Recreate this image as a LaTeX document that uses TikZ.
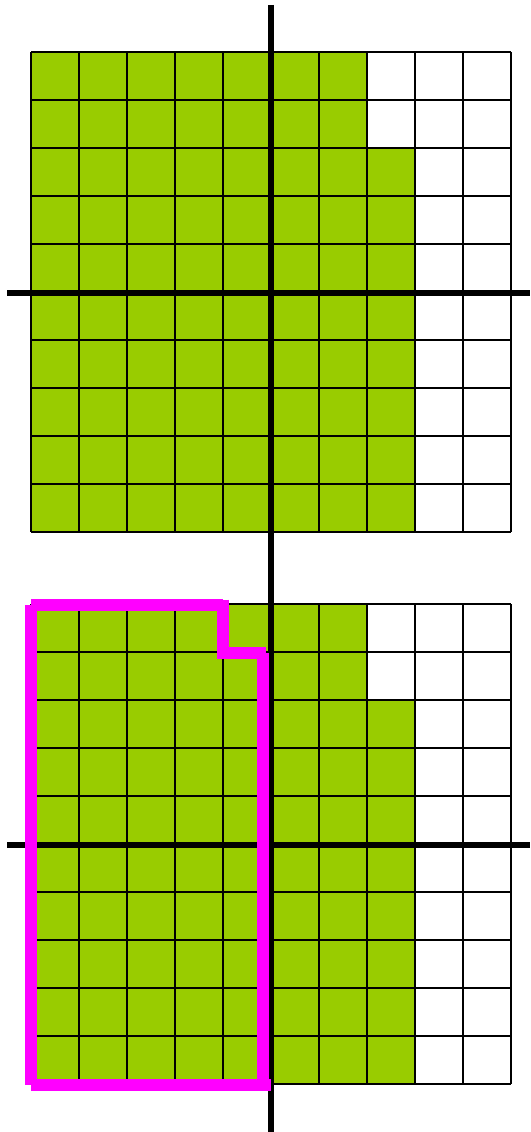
\documentclass[tikz,border=0pt]{standalone}
\definecolor{cellgreen}{HTML}{99CC00}
\definecolor{outline}{HTML}{FF00FF}
\tikzset{
  gridline/.style={draw=black,line width=2pt},
  axisline/.style={draw=black,line width=6.5pt},
  hilite/.style={draw=outline,line width=11.5pt,line cap=butt}
}
\begin{document}
\begin{tikzpicture}[x=1pt,y=-1pt]
\useasboundingbox (0,0) rectangle (530,1132);
\fill[white] (0,0) rectangle (530,1132);
\foreach \oy in {52,604}{
  \fill[cellgreen] (31,\oy) -- (367,\oy) -- (367,\oy+96) -- (415,\oy+96) -- (415,\oy+480) -- (31,\oy+480) -- cycle;
  \foreach \i in {0,...,10}{
    \draw[gridline] (31+48*\i,\oy) -- (31+48*\i,\oy+480);
    \draw[gridline] (31,\oy+48*\i) -- (511,\oy+48*\i);
  }
}
% axes
\draw[axisline] (271,5) -- (271,1132);
\draw[axisline] (7,293) -- (530,293);
\draw[axisline] (7,845) -- (530,845);
% highlighted region
\draw[hilite] (31,605) -- (223,605);
\draw[hilite] (223,599.5) -- (223,659);
\draw[hilite] (217,653) -- (266,653);
\draw[hilite] (263,653) -- (263,1079);
\draw[hilite] (31,1085) -- (271,1085);
\draw[hilite] (31,605) -- (31,1085);
\end{tikzpicture}
\end{document}
